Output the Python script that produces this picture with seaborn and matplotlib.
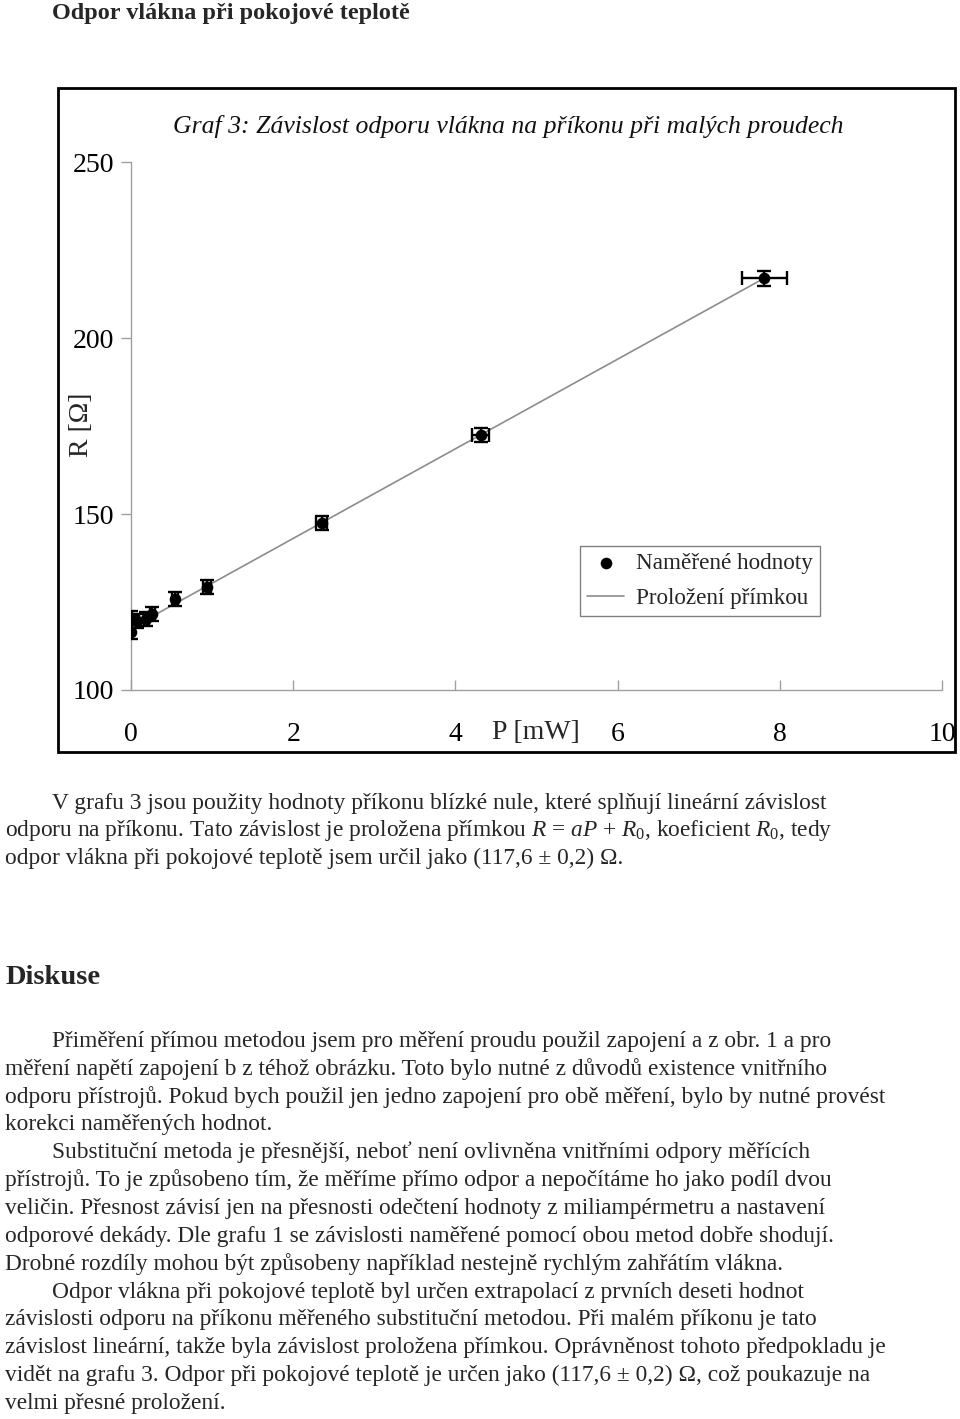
import numpy as np
import pandas as pd
import matplotlib
matplotlib.use("Agg")
import matplotlib.pyplot as plt
from matplotlib.patches import Rectangle
import seaborn as sns

# ---------------- data ----------------
P_mW = [0.00, 0.00, 0.08, 0.19, 0.26, 0.54, 0.94, 2.35, 4.31, 7.81]
R_ohm = [116.6, 120.4, 119.7, 120.1, 121.5, 125.8, 129.3, 147.4, 172.4, 217.0]
P_err = [0.01, 0.01, 0.02, 0.03, 0.03, 0.04, 0.05, 0.07, 0.11, 0.28]
R_err = [2.0, 2.0, 2.0, 2.0, 2.0, 2.0, 2.0, 2.0, 2.0, 2.1]
FIT_A = 12.73
FIT_R0 = 117.6
x_ticks = [0, 2, 4, 6, 8, 10]
y_ticks = [100, 150, 200, 250]

page_title = "Odpor vlákna při pokojové teplotě"
chart_title = "Graf 3: Závislost odporu vlákna na příkonu při malých proudech"
legend_labels = ["Naměřené hodnoty", "Proložení přímkou"]
xlabel = "P [mW]"
ylabel = "R [Ω]"

para1 = [
    (True, "V grafu 3 jsou použity hodnoty příkonu blízké nule, které splňují lineární závislost"),
    (False, "odporu na příkonu. Tato závislost je proložena přímkou $R$ = $aP$ + $R_0$, koeficient $R_0$, tedy"),
    (False, "odpor vlákna při pokojové teplotě jsem určil jako (117,6 ± 0,2) Ω."),
]
section_title = "Diskuse"
para2 = [
    (True, "Přiměření přímou metodou jsem pro měření proudu použil zapojení a z obr. 1 a pro"),
    (False, "měření napětí zapojení b z téhož obrázku. Toto bylo nutné z důvodů existence vnitřního"),
    (False, "odporu přístrojů. Pokud bych použil jen jedno zapojení pro obě měření, bylo by nutné provést"),
    (False, "korekci naměřených hodnot."),
    (True, "Substituční metoda je přesnější, neboť není ovlivněna vnitřními odpory měřících"),
    (False, "přístrojů. To je způsobeno tím, že měříme přímo odpor a nepočítáme ho jako podíl dvou"),
    (False, "veličin. Přesnost závisí jen na přesnosti odečtení hodnoty z miliampérmetru a nastavení"),
    (False, "odporové dekády. Dle grafu 1 se závislosti naměřené pomocí obou metod dobře shodují."),
    (False, "Drobné rozdíly mohou být způsobeny například nestejně rychlým zahřátím vlákna."),
    (True, "Odpor vlákna při pokojové teplotě byl určen extrapolací z prvních deseti hodnot"),
    (False, "závislosti odporu na příkonu měřeného substituční metodou. Při malém příkonu je tato"),
    (False, "závislost lineární, takže byla závislost proložena přímkou. Oprávněnost tohoto předpokladu je"),
    (False, "vidět na grafu 3. Odpor při pokojové teplotě je určen jako (117,6 ± 0,2) Ω, což poukazuje na"),
    (False, "velmi přesné proložení."),
]

# ---------------- style ----------------
sns.set_theme(style="white")
plt.rcParams["font.family"] = ["Liberation Serif", "DejaVu Serif"]
plt.rcParams["mathtext.fontset"] = "custom"
plt.rcParams["mathtext.rm"] = "Liberation Serif"
plt.rcParams["mathtext.it"] = "Liberation Serif:italic"

W, H = 960, 1419
fig = plt.figure(figsize=(W / 100, H / 100), dpi=100)
fig.patch.set_facecolor("white")

def fx(x):
    return x / W

def fy(y):
    return 1 - y / H

# axes placement (pixels)
L, Rr, T, B = 131, 942, 162, 690
ax = fig.add_axes([fx(L), fy(B), (Rr - L) / W, (B - T) / H])
ax.set_facecolor("white")

df = pd.DataFrame({"P": P_mW, "R": R_ohm})
fit_x = np.array([min(P_mW), max(P_mW)])
fit_df = pd.DataFrame({"P": fit_x, "R": FIT_A * fit_x + FIT_R0})

sns.lineplot(data=fit_df, x="P", y="R", ax=ax, color="#8c8c8c", linewidth=1.2,
             label=legend_labels[1], zorder=2)
ax.errorbar(P_mW, R_ohm, xerr=P_err, yerr=R_err, fmt="none", ecolor="black",
            elinewidth=1.7, capsize=5, capthick=1.7, zorder=3)
sns.scatterplot(data=df, x="P", y="R", ax=ax, color="black", s=70,
                edgecolor="black", linewidth=0, label=legend_labels[0], zorder=4)

ax.set_xlim(0, 10)
ax.set_ylim(100, 250)
ax.set_xticks(x_ticks)
ax.set_yticks(y_ticks)
ax.set_xticklabels([str(t) for t in x_ticks])
ax.set_yticklabels([str(t) for t in y_ticks])
for s in ["top", "right"]:
    ax.spines[s].set_visible(False)
for s in ["left", "bottom"]:
    ax.spines[s].set_color("#a0a0a0")
    ax.spines[s].set_linewidth(1.0)
ax.tick_params(axis="x", direction="in", length=7, width=1, color="#a0a0a0",
               pad=23, labelsize=20, labelcolor="black")
ax.tick_params(axis="y", direction="out", length=7, width=1, color="#a0a0a0",
               pad=5, labelsize=20, labelcolor="black")
ax.tick_params(axis="x", which="both", bottom=True, top=False)
ax.tick_params(axis="y", which="both", left=True, right=False)

ax.set_xlabel(xlabel, fontsize=20)
ax.xaxis.set_label_coords((536 - L) / (Rr - L), -(720 - B) / (B - T))
ax.xaxis.label.set_va("top")
ax.set_ylabel(ylabel, fontsize=20)
ax.yaxis.set_label_coords((94 - L) / (Rr - L), (B - 425) / (B - T))

# legend
handles, labels = ax.get_legend_handles_labels()
order = [labels.index(legend_labels[0]), labels.index(legend_labels[1])]
leg = ax.legend([handles[i] for i in order], [labels[i] for i in order],
                loc="upper left",
                bbox_to_anchor=((580 - L) / (Rr - L), (B - 546) / (B - T)),
                borderaxespad=0, frameon=True, fancybox=False, framealpha=1,
                edgecolor="#808080", fontsize=16.7, handlelength=1.6,
                handletextpad=0.5, borderpad=0.3, labelspacing=0.6)
leg.get_frame().set_linewidth(1.0)

# chart title
fig.text(fx(173), fy(126), chart_title, fontsize=18.5, style="italic",
         ha="left", va="center", color="#111111")

# frame around chart
fig.patches.append(Rectangle((fx(58), fy(752)), (955 - 58) / W, (752 - 88) / H,
                             transform=fig.transFigure, fill=False,
                             edgecolor="black", linewidth=2))

# page title
fig.text(fx(52), fy(13), page_title, fontsize=17.5, fontweight="bold",
         ha="left", va="center")

TXT = 16.8
def write_lines(lines, y0, step=27.9):
    for i, (indent, s) in enumerate(lines):
        fig.text(fx(52 if indent else 5), fy(y0 + i * step), s,
                 fontsize=TXT, ha="left", va="center")

write_lines(para1, 803)
fig.text(fx(5), fy(977), section_title, fontsize=20.5, fontweight="bold",
         ha="left", va="center")
write_lines(para2, 1041)

fig.savefig("out.png", dpi=100, facecolor="white")
